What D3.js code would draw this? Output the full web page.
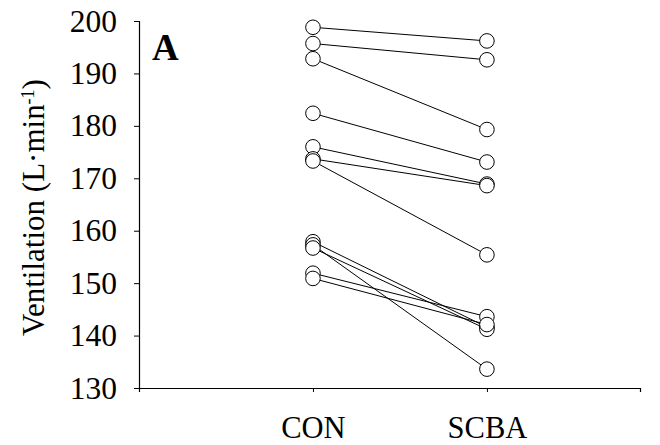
<!DOCTYPE html>
<html>
<head>
<meta charset="utf-8">
<script src="https://cdn.jsdelivr.net/npm/d3@7"></script>
<style>
  html, body { margin: 0; padding: 0; background: #fff; }
  svg { display: block; }
  text { font-family: "Liberation Serif", "Times New Roman", serif; fill: #000; }
</style>
</head>
<body>
<div id="chart"></div>
<script>
// Paired ventilation values per subject (L·min-1)
const conditions = ["CON", "SCBA"];
const conValues  = [198.8, 195.7, 192.8, 182.4, 176.0, 173.7, 173.3, 157.9, 157.3, 156.7, 151.9, 150.9];
const scbaValues = [196.2, 192.6, 179.3, 173.1, 168.9, 168.6, 155.4, 141.6, 133.6, 141.2, 143.6, 142.1];
const yTicks = [130, 140, 150, 160, 170, 180, 190, 200];
const panelLabel = "A";

const width = 660, height = 445;

const svg = d3.select("#chart").append("svg")
  .attr("width", width).attr("height", height);

// Category positions along x (index 1 = CON, 2 = SCBA)
const x = d3.scaleLinear().domain([0, 2.88]).range([139, 640]);
const y = d3.scaleLinear().domain([130, 200]).range([388, 21]);

// Y axis
const yAxis = svg.append("g")
  .attr("transform", `translate(${x(0)},0)`)
  .call(d3.axisLeft(y).tickValues(yTicks).tickSize(5).tickPadding(17).tickFormat(d3.format("d")));
yAxis.select(".domain").attr("stroke", "#000").attr("stroke-width", 1.2);
yAxis.selectAll(".tick line").attr("stroke", "#000");
yAxis.selectAll(".tick text")
  .style("font-family", '"Liberation Serif", serif')
  .style("font-size", "31.5px");

// X axis
const xAxis = svg.append("g")
  .attr("transform", `translate(0,${y(130)})`)
  .call(d3.axisBottom(x).tickValues([1, 2]).tickSize(4).tickPadding(24)
    .tickFormat(d => conditions[d - 1]));
xAxis.select(".domain").attr("stroke", "#000").attr("stroke-width", 1.2);
xAxis.selectAll(".tick line").attr("stroke", "#000");
xAxis.selectAll(".tick text")
  .style("font-family", '"Liberation Serif", serif')
  .style("font-size", "30.5px");

// Y axis title
const title = svg.append("text")
  .attr("transform", `translate(44,${(y(200) + y(130)) / 2 + 3}) rotate(-90)`)
  .attr("text-anchor", "middle")
  .style("font-size", "31px");
title.append("tspan").text("Ventilation (L\u00B7min");
title.append("tspan").attr("baseline-shift", "super").style("font-size", "18px").text("-1");
title.append("tspan").text(")");

// Panel label
svg.append("text")
  .attr("x", 152).attr("y", 60)
  .style("font-size", "37px").style("font-weight", "bold")
  .text(panelLabel);

// Subject lines
const pairs = conValues.map((v, i) => [v, scbaValues[i]]);
svg.append("g").selectAll("line").data(pairs).join("line")
  .attr("x1", x(1)).attr("y1", d => y(d[0]))
  .attr("x2", x(2)).attr("y2", d => y(d[1]))
  .attr("stroke", "#000").attr("stroke-width", 1);

// Markers
const pts = [];
pairs.forEach(d => { pts.push({ c: 1, v: d[0] }); pts.push({ c: 2, v: d[1] }); });
svg.append("g").selectAll("circle").data(pts).join("circle")
  .attr("cx", d => x(d.c)).attr("cy", d => y(d.v)).attr("r", 7.3)
  .attr("fill", "#fff").attr("stroke", "#000").attr("stroke-width", 1);
</script>
</body>
</html>
